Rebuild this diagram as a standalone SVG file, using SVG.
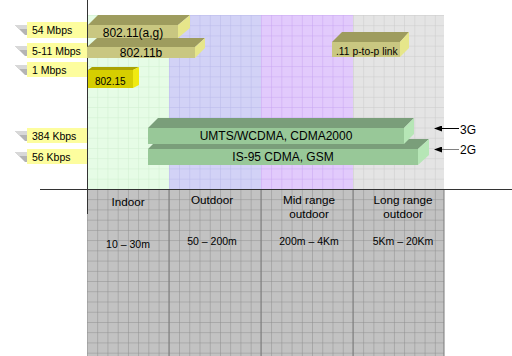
<svg xmlns="http://www.w3.org/2000/svg" width="512" height="356" viewBox="0 0 512 356">
<defs>
<pattern id="pg" patternUnits="userSpaceOnUse" x="87" y="15" width="10.23" height="10.23"><rect width="10.23" height="10.23" fill="#e6fce6"/><path d="M0 0H10.23M0 0V10.23" stroke="#cfeecf" stroke-width="1" fill="none"/></pattern>
<pattern id="pb" patternUnits="userSpaceOnUse" x="87" y="15" width="10.23" height="10.23"><rect width="10.23" height="10.23" fill="#d2d2f6"/><path d="M0 0H10.23M0 0V10.23" stroke="#b8b8ea" stroke-width="1" fill="none"/></pattern>
<pattern id="pp" patternUnits="userSpaceOnUse" x="87" y="15" width="10.23" height="10.23"><rect width="10.23" height="10.23" fill="#e2cafc"/><path d="M0 0H10.23M0 0V10.23" stroke="#c8a6f2" stroke-width="1" fill="none"/></pattern>
<pattern id="pe" patternUnits="userSpaceOnUse" x="87" y="15" width="10.23" height="10.23"><rect width="10.23" height="10.23" fill="#e4e4e4"/><path d="M0 0H10.23M0 0V10.23" stroke="#cacaca" stroke-width="1" fill="none"/></pattern>
<pattern id="pd" patternUnits="userSpaceOnUse" x="87" y="189" width="10.23" height="10.23"><rect width="10.23" height="10.23" fill="#c2c2c2"/><path d="M0 0H10.23M0 0V10.23" stroke="#8e8e8e" stroke-width="1" fill="none"/></pattern>
<marker id="ah" markerWidth="8" markerHeight="6" refX="7" refY="3" orient="auto" markerUnits="userSpaceOnUse"><path d="M0 0L8 3L0 6z" fill="#000"/></marker>
</defs>
<style>
text{font-family:"Liberation Sans",Arial,sans-serif;fill:#000}
.lbl{fill:#fdfd9e}
.stub{fill:#b4b4b4}
.stubt{fill:#d8d8d8}
.lt{font-size:10.5px}
.bt{font-size:12px;text-anchor:middle}
.rt{font-size:11.7px;text-anchor:middle}
.rg{font-size:10.5px;text-anchor:middle}
.gl{font-size:12px}
.kf{fill:#c9c781}.kt{fill:#9e9c5e}.kr{fill:#e6e68a}
.yf{fill:#d6ce00}.yt{fill:#aaa200}.yr{fill:#f0ea10}
.gf{fill:#98c898}.gt{fill:#7a9e7a}.gr{fill:#b6e6b6}
.ax{stroke:#333;stroke-width:1;fill:none}
.ar{stroke-width:1;fill:none}
</style>
<rect width="512" height="356" fill="#fff"/>
<g id="background">
<rect x="87" y="15" width="82" height="174" fill="url(#pg)"/>
<rect x="169" y="15" width="92" height="174" fill="url(#pb)"/>
<rect x="261" y="15" width="92" height="174" fill="url(#pp)"/>
<rect x="353" y="15" width="91" height="174" fill="url(#pe)"/>
<rect x="87" y="189" width="357" height="167" fill="url(#pd)"/>
<path d="M169 189V356M261 189V356M353 189V356M444 189V356" stroke="#7a7a7a" stroke-width="1"/>
</g>
<g id="axes">
<path class="ax" d="M87.5 0V214"/>
<path class="ax" d="M40 189.5H512"/>
</g>
<g id="rate-54">
<polygon class="stub" points="15,25 27,25 27,35 25,35"/><polygon class="stubt" points="15,25 27,25 27,29 19,29"/>
<rect class="lbl" x="27" y="22" width="60" height="16"/><text class="lt" x="32" y="34">54 Mbps</text>
</g>
<g id="rate-5-11">
<polygon class="stub" points="15,46 27,46 27,56 25,56"/><polygon class="stubt" points="15,46 27,46 27,50 19,50"/>
<rect class="lbl" x="27" y="43" width="60" height="15"/><text class="lt" x="32" y="55">5-11 Mbps</text>
</g>
<g id="rate-1">
<polygon class="stub" points="15,65 27,65 27,75 25,75"/><polygon class="stubt" points="15,65 27,65 27,69 19,69"/>
<rect class="lbl" x="27" y="62" width="60" height="15"/><text class="lt" x="32" y="74">1 Mbps</text>
</g>
<g id="rate-384">
<polygon class="stub" points="15,131 27,131 27,141 25,141"/><polygon class="stubt" points="15,131 27,131 27,135 19,135"/>
<rect class="lbl" x="27" y="128" width="60" height="15"/><text class="lt" x="32" y="140">384 Kbps</text>
</g>
<g id="rate-56">
<polygon class="stub" points="15,152 27,152 27,162 25,162"/><polygon class="stubt" points="15,152 27,152 27,156 19,156"/>
<rect class="lbl" x="27" y="149" width="60" height="15"/><text class="lt" x="32" y="161">56 Kbps</text>
</g>
<g id="n-80211b">
<polygon class="kt" points="87,47 97,38 205,38 195,47"/>
<polygon class="kr" points="195,47 205,38 205,48 195,58"/>
<rect class="kf" x="87" y="47" width="108" height="11"/>
<text class="bt" x="141" y="57">802.11b</text>
</g>
<g id="n-80211ag">
<polygon class="kt" points="88,25 98,15 190,15 178,25"/>
<polygon class="kr" points="178,25 190,15 190,28 178,38"/>
<rect class="kf" x="88" y="25" width="90" height="13"/>
<text class="bt" x="133" y="36.5">802.11(a,g)</text>
</g>
<g id="n-80215">
<polygon class="yt" points="88,70 92,67 139,67 133,70"/>
<polygon class="yr" points="133,70 139,67 139,85 133,88"/>
<rect class="yf" x="88" y="70" width="45" height="18"/>
<text x="95" y="85" style="font-size:10px">802.15</text>
</g>
<g id="n-p2p">
<polygon class="kt" points="332,42 342,32 409,32 400,42"/>
<polygon class="kr" points="400,42 409,32 409,48 400,57"/>
<rect class="kf" x="332" y="42" width="68" height="15"/>
<text x="336" y="55" style="font-size:10.3px">.11 p-to-p link</text>
</g>
<g id="n-2g">
<polygon class="gt" points="148,149 158,139 429,139 418,149"/>
<polygon class="gr" points="418,149 429,139 429,155 418,165"/>
<rect class="gf" x="148" y="149" width="270" height="16"/>
<text class="bt" x="283" y="161">IS-95 CDMA, GSM</text>
</g>
<g id="n-3g">
<polygon class="gt" points="148,128 158,118 414,118 404,128"/>
<polygon class="gr" points="404,128 414,118 414,134 404,144"/>
<rect class="gf" x="148" y="128" width="256" height="16"/>
<text class="bt" x="276" y="140">UMTS/WCDMA, CDMA2000</text>
</g>
<g id="connectors">
<path class="ar" stroke="#000" d="M459 128.5H435" marker-end="url(#ah)"/>
<path class="ar" stroke="#808080" d="M459 149.5H435" marker-end="url(#ah)"/>
</g>
<g id="gen-labels">
<text class="gl" x="460" y="134">3G</text>
<text class="gl" x="460" y="154">2G</text>
</g>
<g id="ranges">
<text class="rt" x="128" y="206">Indoor</text>
<text class="rt" x="212" y="204">Outdoor</text>
<text class="rt" x="309" y="204">Mid range</text>
<text class="rt" x="309" y="218">outdoor</text>
<text class="rt" x="403" y="204">Long range</text>
<text class="rt" x="403" y="218">outdoor</text>
<text class="rg" x="128" y="248">10 – 30m</text>
<text class="rg" x="212" y="245">50 – 200m</text>
<text class="rg" x="309" y="245">200m – 4Km</text>
<text class="rg" x="403" y="245">5Km – 20Km</text>
</g>
</svg>
